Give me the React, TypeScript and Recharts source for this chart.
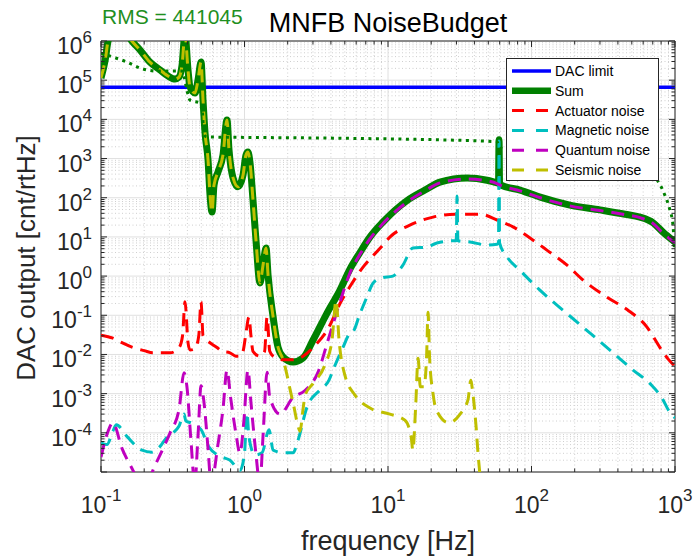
import React from 'react';
import { LineChart, Line, XAxis, YAxis, CartesianGrid, ReferenceArea } from 'recharts';

type P = [number, number];

// ---- data (frequency [Hz], DAC output [cnt/rtHz]) ----
const dacLimit: P[] = [[0.1, 65536], [1000, 65536]];

const sumNoise: P[] = [
  [0.1, 1.14e5], [0.107, 3.3e5], [0.112, 1.0e6], [0.131, 3.4e6], [0.164, 1.0e6], [0.187, 5.9e5],
  [0.219, 2.9e5], [0.258, 1.82e5], [0.293, 1.28e5], [0.328, 1.07e5], [0.35, 1.2e5], [0.367, 2.4e5],
  [0.385, 1.5e6], [0.404, 1.82e5], [0.417, 6.7e4], [0.452, 4.7e4], [0.474, 1.0e5], [0.498, 2.9e5],
  [0.514, 3.1e4], [0.531, 4.5e3], [0.557, 9.2e2], [0.575, 1.17e2], [0.594, 43], [0.613, 2.1e2],
  [0.653, 4.5e2], [0.708, 1.23e3], [0.755, 9.6e3], [0.78, 1.65e3], [0.832, 3.2e2], [0.901, 1.9e2],
  [0.977, 3.8e2], [1.024, 1.23e3], [1.057, 1.47e3], [1.091, 8.2e2], [1.146, 87], [1.202, 8.3],
  [1.282, 0.67], [1.346, 1.9], [1.413, 5.2], [1.459, 1.07], [1.583, 0.09], [1.711, 0.0155],
  [1.855, 0.0086], [2.178, 0.0064], [2.558, 0.0081], [3.0, 0.023], [3.76, 0.114], [4.63, 0.44],
  [5.43, 1.5], [6.38, 4.0], [7.5, 10], [9.23, 24], [13.6, 85], [18.1, 157], [23, 250], [35.6, 320],
  [49, 280], [57.5, 240], [58.9, 235], [59.4, 3000], [59.9, 225], [61.3, 210], [83.2, 157],
  [115, 104], [185, 65], [300, 49], [449, 38], [570, 32], [703, 23], [824, 13.3], [1000, 7.4],
];

const rmsCumulative: P[] = [
  [0.1, 4.9e5], [0.121, 3.9e5], [0.152, 2.9e5], [0.187, 2.05e5], [0.245, 1.71e5], [0.367, 1.71e5],
  [0.38, 1.2e5], [0.397, 5.6e4], [0.417, 3.1e4], [0.49, 2.6e4], [0.506, 1.95e4], [0.522, 4.0e3],
  [0.548, 3.55e3], [0.755, 3.5e3], [4.63, 3.3e3], [57.5, 2.7e3], [60.3, 1.86e3], [97.7, 1.47e3],
  [300, 1.03e3], [570, 6.8e2], [726, 3.4e2], [851, 1.15e2], [923, 48], [968, 20], [990, 5],
];

const actuatorNoise: P[] = [
  [0.1, 0.031], [0.121, 0.026], [0.14, 0.02], [0.167, 0.015], [0.2, 0.0125], [0.23, 0.011],
  [0.27, 0.011], [0.303, 0.011], [0.35, 0.015], [0.37, 0.03], [0.385, 0.22], [0.404, 0.02],
  [0.417, 0.013], [0.452, 0.014], [0.48, 0.03], [0.498, 0.22], [0.514, 0.03], [0.548, 0.023],
  [0.643, 0.015], [0.697, 0.012], [0.793, 0.011], [0.87, 0.009], [0.93, 0.009], [0.977, 0.012],
  [1.024, 0.035], [1.074, 0.09], [1.109, 0.03], [1.146, 0.012], [1.282, 0.009], [1.38, 0.012],
  [1.436, 0.09], [1.5, 0.012], [1.583, 0.009], [1.855, 0.0073], [2.18, 0.0073], [2.558, 0.009],
  [3.0, 0.015], [3.88, 0.05], [4.63, 0.2], [5.43, 0.54], [6.7, 1.7], [8.8, 5.1], [10.3, 9.9],
  [14.2, 20], [20.6, 32], [29.3, 38], [43.8, 38], [57.5, 27], [74.3, 18], [97.7, 9.4], [128, 4.6],
  [177, 1.9], [228, 0.8], [336, 0.29], [463, 0.14], [638, 0.05], [786, 0.015], [893, 0.0077],
  [1000, 0.005],
];

const magneticNoise: P[] = [
  [0.1, 5.5e-5], [0.11, 5e-5], [0.121, 1.1e-4], [0.128, 1.6e-4], [0.152, 8e-5], [0.193, 3.6e-5],
  [0.226, 3.2e-5], [0.258, 4.5e-5], [0.29, 8e-5], [0.318, 1e-4], [0.35, 1.5e-4], [0.379, 3e-4],
  [0.39, 2e-4], [0.424, 1.8e-4], [0.498, 1.2e-4], [0.566, 4.3e-5], [0.697, 2.4e-5], [0.793, 2e-5],
  [0.931, 1.1e-5], [1.0, 3e-5], [1.04, 3.2e-4], [1.074, 7.8e-5], [1.183, 2.7e-5], [1.325, 3.1e-5],
  [1.483, 1.2e-4], [1.583, 3.6e-5], [1.884, 3.1e-5], [2.178, 3.1e-5], [2.36, 6.5e-5], [2.731, 4.6e-4],
  [3.357, 1.24e-3], [3.88, 2.2e-3], [4.14, 4e-3], [4.85, 0.015], [5.43, 0.035], [5.7, 0.038],
  [6.38, 0.11], [7.15, 0.3], [7.86, 0.66], [9.08, 0.9], [10.8, 1.0], [12.7, 1.9], [14.9, 5.2],
  [18.7, 5.5], [21.9, 7], [29.3, 8], [29.9, 8], [30.3, 110], [30.7, 8], [37.3, 7.4], [49, 6.2],
  [57.5, 6.5], [58.9, 7], [59.4, 2800], [59.9, 7], [67.5, 3.1], [83.2, 1.4], [115, 0.43],
  [177, 0.11], [256, 0.035], [370, 0.011], [510, 0.004], [670, 0.0018], [824, 7e-4], [893, 4e-4],
  [1000, 2.4e-4],
];

const quantumNoise: P[] = [
  [0.1, 2.4e-5], [0.112, 1.1e-4], [0.121, 1.8e-4], [0.14, 4e-5], [0.167, 1.1e-5], [0.2, 3e-6],
  [0.23, 1.1e-5], [0.271, 4e-5], [0.303, 1.0e-4], [0.35, 4e-4], [0.379, 3.4e-3], [0.397, 1.5e-3],
  [0.424, 6e-5], [0.45, 5e-6], [0.474, 8e-5], [0.498, 1.6e-3], [0.522, 6e-4], [0.557, 4e-5],
  [0.585, 5e-6], [0.653, 5e-5], [0.708, 4e-4], [0.755, 4e-3], [0.8, 8e-4], [0.87, 1e-4],
  [0.93, 3e-5], [0.99, 2e-4], [1.057, 4e-3], [1.109, 6e-4], [1.2, 3e-5], [1.28, 5e-6],
  [1.35, 1e-4], [1.436, 3.5e-3], [1.5, 8e-4], [1.77, 3e-4], [2.18, 8e-4], [2.64, 1.2e-3],
  [3.25, 3.5e-3], [3.82, 0.023], [4.63, 0.22], [5.43, 1.2], [6.38, 3.6], [7.5, 9], [9.23, 22],
  [13.6, 78], [18.1, 150], [23, 240], [35.6, 300], [49, 270], [57.5, 230], [61.3, 205], [83.2, 150],
  [115, 100], [185, 62], [300, 47], [449, 37], [570, 31], [703, 22], [824, 12.5], [1000, 7.0],
];

const seismicNoise: P[] = [
  [0.1, 1.14e5], [0.107, 3.3e5], [0.112, 1.0e6], [0.131, 3.4e6], [0.164, 1.0e6], [0.187, 5.9e5],
  [0.219, 2.9e5], [0.258, 1.82e5], [0.293, 1.28e5], [0.328, 1.07e5], [0.35, 1.2e5], [0.367, 2.4e5],
  [0.385, 1.5e6], [0.404, 1.82e5], [0.417, 6.7e4], [0.452, 4.7e4], [0.474, 1.0e5], [0.498, 2.9e5],
  [0.514, 3.1e4], [0.531, 4.5e3], [0.557, 9.2e2], [0.575, 1.17e2], [0.594, 43], [0.613, 2.1e2],
  [0.653, 4.5e2], [0.708, 1.23e3], [0.755, 9.6e3], [0.78, 1.65e3], [0.832, 3.2e2], [0.901, 1.9e2],
  [0.977, 3.8e2], [1.024, 1.23e3], [1.057, 1.47e3], [1.091, 8.2e2], [1.146, 87], [1.202, 8.3],
  [1.282, 0.67], [1.346, 1.9], [1.413, 5.2], [1.459, 1.07], [1.583, 0.09], [1.711, 0.0155],
  [1.855, 0.0075], [1.977, 3e-3], [2.075, 1.3e-3], [2.2, 5e-4], [2.36, 1.5e-4], [2.437, 1.1e-4],
  [2.558, 4e-4], [2.643, 9e-4], [3.0, 1.8e-3], [3.64, 5.5e-3], [4.07, 0.023], [4.35, 0.24],
  [4.56, 0.023], [5.0, 3e-3], [5.89, 9.2e-4], [7.5, 4.3e-4], [10.3, 3e-4], [13.1, 2.1e-4],
  [14.5, 8e-5], [14.9, 3.6e-5], [15.6, 5e-4], [16.2, 8e-3], [16.8, 1.5e-3], [17.8, 1.5e-3],
  [18.6, 1e-2], [19.0, 0.12], [19.5, 8e-3], [20.6, 1e-3], [21.6, 4e-4], [26.6, 1.8e-4],
  [31.8, 3e-4], [36.1, 7e-4], [37.8, 2.2e-3], [38.5, 1.5e-3], [41, 1.6e-4], [42.4, 3e-5],
  [45.2, 3e-6], [48, 1e-6],
];

const xMajorTicks = [0.1, 1, 10, 100, 1000];
const yMajorTicks = [1e-5, 1e-4, 1e-3, 1e-2, 1e-1, 1, 10, 100, 1e3, 1e4, 1e5, 1e6];
const yLabelledTicks = [1e-4, 1e-3, 1e-2, 1e-1, 1, 10, 100, 1e3, 1e4, 1e5, 1e6];
const minorMultipliers = [2, 3, 4, 5, 6, 7, 8, 9];

const titleText = 'MNFB NoiseBudget';
const rmsText = 'RMS = 441045';
const xLabelText = 'frequency [Hz]';
const yLabelText = 'DAC output [cnt/rtHz]';

// ---- styling ----
const FONT = '"Liberation Sans", Arial, Helvetica, sans-serif';
const AXIS = '#262626';
const PLOT_TOP = 41;
const PLOT_RIGHT = 675;
const DASH = '13 8';

const minorOf = (majors: number[]) =>
  majors.slice(0, -1).flatMap((m) => minorMultipliers.map((k) => k * m));
const xMinorTicks = minorOf(xMajorTicks);
const yMinorTicks = minorOf(yMajorTicks);
const xAllTicks = [...xMajorTicks, ...xMinorTicks].sort((a, b) => a - b);
const yAllTicks = [...yMajorTicks, ...yMinorTicks].sort((a, b) => a - b);

const isMajor = (v: number) => Math.abs(Math.log10(v) - Math.round(Math.log10(v))) < 1e-6;
const expOf = (v: number) => Math.round(Math.log10(v));
const hasYLabel = (v: number) => yLabelledTicks.some((t) => Math.abs(Math.log10(t) - Math.log10(v)) < 1e-6);

const rows = (pts: P[]) => pts.map(([f, v]) => ({ f, v }));

type Series = {
  name: string;
  data: P[];
  color: string;
  width: number;
  dash?: string;
  legend: boolean;
};

const series: Series[] = [
  { name: 'DAC limit', data: dacLimit, color: '#0000ff', width: 3.5, legend: true },
  { name: 'Sum', data: sumNoise, color: '#008000', width: 7, legend: true },
  { name: 'Actuator noise', data: actuatorNoise, color: '#ff0000', width: 3, dash: DASH, legend: true },
  { name: 'Magnetic noise', data: magneticNoise, color: '#00bfbf', width: 3, dash: DASH, legend: true },
  { name: 'Quantum noise', data: quantumNoise, color: '#bf00bf', width: 3, dash: DASH, legend: true },
  { name: 'Seismic noise', data: seismicNoise, color: '#bfbf00', width: 3, dash: DASH, legend: true },
  { name: 'RMS', data: rmsCumulative, color: '#008000', width: 3, dash: '3 4.5', legend: false },
];

const XTick = (props: any) => {
  const { x, y, payload } = props;
  const v = payload.value as number;
  const major = isMajor(v);
  const len = major ? 6 : 3.5;
  return (
    <g>
      <line x1={x} x2={x} y1={y} y2={y - len} stroke={AXIS} strokeWidth={1} />
      <line x1={x} x2={x} y1={PLOT_TOP} y2={PLOT_TOP + len} stroke={AXIS} strokeWidth={1} />
      {major && (
        <text x={x} y={y + 41} textAnchor="middle" fill={AXIS} fontFamily={FONT} fontSize={23}>
          10
          <tspan dy={-12} fontSize={17}>{String(expOf(v))}</tspan>
        </text>
      )}
    </g>
  );
};

const YTick = (props: any) => {
  const { x, y, payload } = props;
  const v = payload.value as number;
  const major = isMajor(v);
  const len = major ? 6 : 3.5;
  return (
    <g>
      <line x1={x} x2={x + len} y1={y} y2={y} stroke={AXIS} strokeWidth={1} />
      <line x1={PLOT_RIGHT} x2={PLOT_RIGHT - len} y1={y} y2={y} stroke={AXIS} strokeWidth={1} />
      {major && hasYLabel(v) && (
        <text x={x - 9} y={y + 13} textAnchor="end" fill={AXIS} fontFamily={FONT} fontSize={23}>
          10
          <tspan dy={-11} fontSize={17}>{String(expOf(v))}</tspan>
        </text>
      )}
    </g>
  );
};

const legendItems = series.filter((s) => s.legend);

export default function App() {
  return (
    <div style={{ position: 'absolute', left: 0, top: 0, width: 697, height: 558, background: '#ffffff' }}>
      <LineChart width={697} height={558} margin={{ top: 41, right: 22, bottom: 0, left: 0 }}>
        <CartesianGrid
          verticalValues={xMinorTicks}
          horizontalValues={yMinorTicks}
          stroke="#cfcfcf"
          strokeDasharray="1 2.5"
        />
        <CartesianGrid verticalValues={xMajorTicks} horizontalValues={yMajorTicks} stroke="#e0e0e0" />
        <XAxis
          dataKey="f"
          type="number"
          scale="log"
          domain={[0.1, 1000]}
          allowDataOverflow
          ticks={xAllTicks}
          interval={0}
          tick={<XTick />}
          tickLine={false}
          tickSize={0}
          tickMargin={0}
          axisLine={false}
          height={86}
        />
        <YAxis
          type="number"
          scale="log"
          domain={[1e-5, 1e6]}
          allowDataOverflow
          ticks={yAllTicks}
          interval={0}
          tick={<YTick />}
          tickLine={false}
          tickSize={0}
          tickMargin={0}
          axisLine={false}
          width={101}
        />
        {series.map((s) => (
          <Line
            key={s.name}
            data={rows(s.data)}
            dataKey="v"
            name={s.name}
            type="monotoneX"
            stroke={s.color}
            strokeWidth={s.width}
            strokeDasharray={s.dash}
            strokeLinejoin="round"
            dot={false}
            activeDot={false}
            isAnimationActive={false}
            legendType="none"
          />
        ))}
        <ReferenceArea
          x1={0.1}
          x2={1000}
          y1={1e-5}
          y2={1e6}
          fill="none"
          fillOpacity={0}
          stroke={AXIS}
          strokeWidth={1}
          ifOverflow="visible"
        />
      </LineChart>
      <svg
        width={697}
        height={558}
        style={{ position: 'absolute', left: 0, top: 0, pointerEvents: 'none' }}
      >
        <text x={102} y={24} fill="#1f8f1f" fontFamily={FONT} fontSize={21}>{rmsText}</text>
        <text x={388} y={32} textAnchor="middle" fill="#000" fontFamily={FONT} fontSize={27}>{titleText}</text>
        <text x={388} y={550} textAnchor="middle" fill={AXIS} fontFamily={FONT} fontSize={27}>{xLabelText}</text>
        <text
          x={0}
          y={0}
          transform="translate(35,258) rotate(-90)"
          textAnchor="middle"
          fill={AXIS}
          fontFamily={FONT}
          fontSize={26}
        >
          {yLabelText}
        </text>
        <g>
          <rect x={506.5} y={58.5} width={152} height={122} fill="#ffffff" stroke={AXIS} strokeWidth={1} />
          {legendItems.map((s, i) => {
            const cy = 71 + i * 19.8;
            return (
              <g key={s.name}>
                <line
                  x1={512}
                  x2={551}
                  y1={cy}
                  y2={cy}
                  stroke={s.color}
                  strokeWidth={s.name === 'Sum' ? 6.5 : s.width}
                  strokeDasharray={s.dash ? '12 12' : undefined}
                />
                <text x={555} y={cy + 5} fill="#000" fontFamily={FONT} fontSize={14}>{s.name}</text>
              </g>
            );
          })}
        </g>
      </svg>
    </div>
  );
}
